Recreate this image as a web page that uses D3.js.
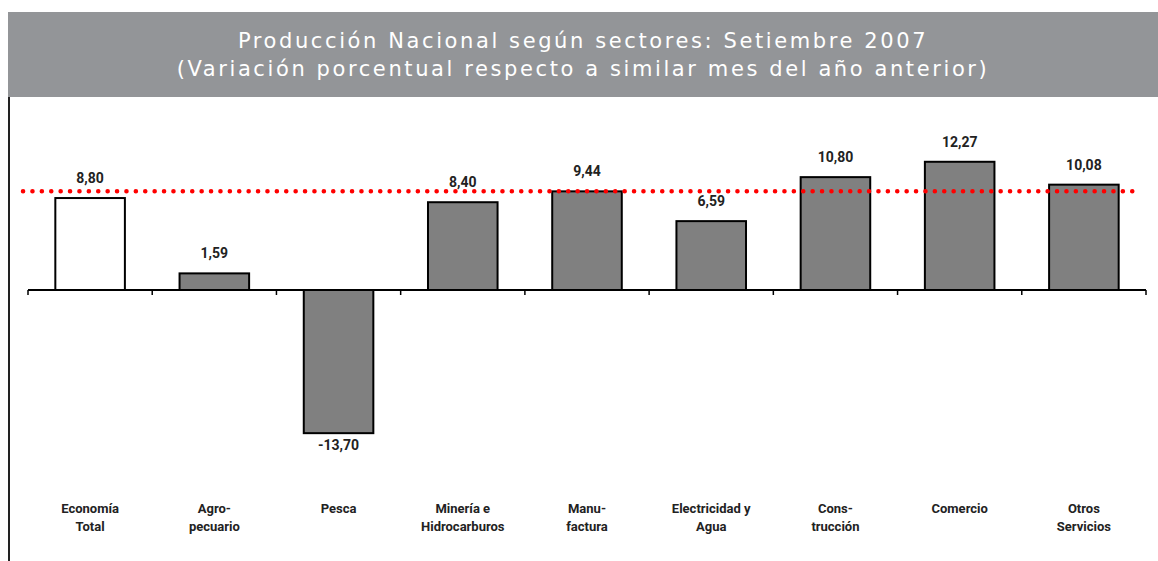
<!DOCTYPE html>
<html>
<head>
<meta charset="utf-8">
<script src="https://cdn.jsdelivr.net/npm/d3@7"></script>
<style>
  body { margin: 0; background: #fff; }
  .lbl { font-family: "Liberation Sans Narrow", "Arial Narrow", "Roboto", sans-serif; font-weight: bold; fill: #222; }
</style>
</head>
<body>
<script>
var categories = [["Economía", "Total"], ["Agro-", "pecuario"], ["Pesca"], ["Minería e", "Hidrocarburos"],
                  ["Manu-", "factura"], ["Electricidad y", "Agua"], ["Cons-", "trucción"], ["Comercio"], ["Otros", "Servicios"]];
var values = [8.80, 1.59, -13.70, 8.40, 9.44, 6.59, 10.80, 12.27, 10.08];
var valueLabels = ["8,80", "1,59", "-13,70", "8,40", "9,44", "6,59", "10,80", "12,27", "10,08"];
var refLine = 9.44;
var titleLines = ["Producción Nacional según sectores: Setiembre 2007",
                  "(Variación porcentual respecto a similar mes del año anterior)"];

var W = 1158, H = 561;

var svg = d3.select("body").append("svg")
    .attr("width", W)
    .attr("height", H);

// header band
svg.append("rect")
    .attr("x", 8).attr("y", 12)
    .attr("width", W - 8).attr("height", 85)
    .attr("fill", "#939598");

svg.selectAll(".title")
    .data(titleLines)
    .enter().append("text")
    .attr("x", 583)
    .attr("y", function(d, i) { return 48 + i * 28; })
    .attr("text-anchor", "middle")
    .attr("fill", "#fff")
    .style("font-family", "DejaVu Sans, sans-serif")
    .style("font-size", "21px")
    .style("letter-spacing", "2.6px")
    .text(function(d) { return d; });

// left border line
svg.append("line")
    .attr("x1", 9).attr("x2", 9)
    .attr("y1", 97).attr("y2", H)
    .attr("stroke", "#222")
    .attr("stroke-width", 2);

var x = d3.scaleBand()
    .domain(d3.range(values.length))
    .range([28, 1146])
    .paddingInner(0.44)
    .paddingOuter(0.22);

var y = d3.scaleLinear()
    .domain([-15, 15])
    .range([290 + 156.75, 290 - 156.75]);

// bars
svg.selectAll(".bar")
    .data(values)
    .enter().append("rect")
    .attr("x", function(d, i) { return x(i); })
    .attr("y", function(d) { return y(Math.max(0, d)); })
    .attr("width", x.bandwidth())
    .attr("height", function(d) { return Math.abs(y(d) - y(0)); })
    .attr("fill", function(d, i) { return i === 0 ? "#fff" : "#808080"; })
    .attr("stroke", "#000")
    .attr("stroke-width", 2);

// zero axis
var step = (1146 - 28) / values.length;
svg.append("line")
    .attr("x1", 28).attr("x2", 1146)
    .attr("y1", y(0)).attr("y2", y(0))
    .attr("stroke", "#000").attr("stroke-width", 2);
svg.selectAll(".tick")
    .data(d3.range(values.length + 1))
    .enter().append("line")
    .attr("x1", function(d) { return 28 + d * step; })
    .attr("x2", function(d) { return 28 + d * step; })
    .attr("y1", y(0)).attr("y2", y(0) + 5)
    .attr("stroke", "#000").attr("stroke-width", 1.5);

// reference dotted line
svg.append("line")
    .attr("x1", 23).attr("x2", 1140)
    .attr("y1", y(refLine)).attr("y2", y(refLine))
    .attr("stroke", "#ff0000")
    .attr("stroke-width", 4.5)
    .attr("stroke-linecap", "round")
    .attr("stroke-dasharray", "0.1 9.3");

// value labels
svg.selectAll(".val")
    .data(values)
    .enter().append("text")
    .attr("class", "lbl")
    .attr("x", function(d, i) { return x(i) + x.bandwidth() / 2; })
    .attr("y", function(d) { return d >= 0 ? y(d) - 15 : y(d) + 17; })
    .attr("text-anchor", "middle")
    .style("font-size", "14px")
    .text(function(d, i) { return valueLabels[i]; });

// category labels
var cat = svg.selectAll(".cat")
    .data(categories)
    .enter().append("text")
    .attr("class", "lbl")
    .attr("text-anchor", "middle")
    .style("font-size", "13px");
cat.selectAll("tspan")
    .data(function(d, i) { return d.map(function(t) { return {t: t, i: i}; }); })
    .enter().append("tspan")
    .attr("x", function(d) { return x(d.i) + x.bandwidth() / 2; })
    .attr("y", function(d, j) { return 513 + j * 18; })
    .text(function(d) { return d.t; });
</script>
</body>
</html>
